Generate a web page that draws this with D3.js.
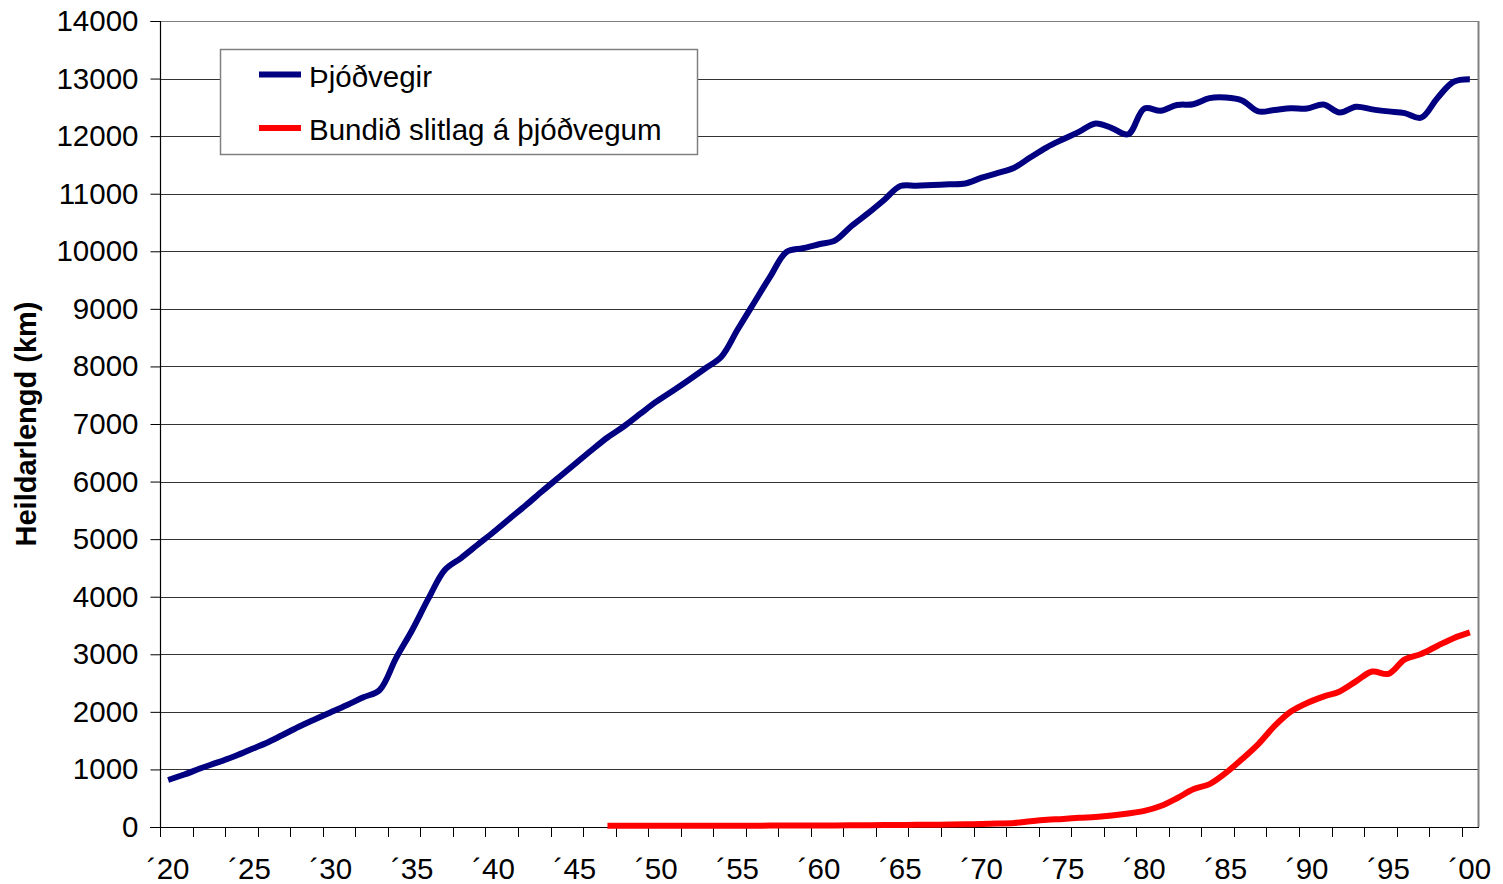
<!DOCTYPE html>
<html>
<head>
<meta charset="utf-8">
<script src="https://cdn.jsdelivr.net/npm/d3@7"></script>
<style>
  html, body { margin: 0; padding: 0; background: #fff; }
  svg { display: block; }
  text { font-family: "Liberation Sans", Arial, sans-serif; fill: #000; }
</style>
</head>
<body>
<svg id="chart" width="1503" height="884"></svg>
<script>
// ---------- data ----------
const years = d3.range(1920, 2001);
const xTickLabels = ["´20","´25","´30","´35","´40","´45","´50","´55","´60","´65","´70","´75","´80","´85","´90","´95","´00"];
const xLabelYears = [1920,1925,1930,1935,1940,1945,1950,1955,1960,1965,1970,1975,1980,1985,1990,1995,2000];
const yTicks = [0,1000,2000,3000,4000,5000,6000,7000,8000,9000,10000,11000,12000,13000,14000];

// Þjóðvegir, 1920–2000
const thjodvegir = [
  816, 912, 1020, 1117, 1221, 1338, 1454, 1593, 1737, 1867,
  1992, 2119, 2253, 2380, 2930, 3422, 3970, 4464, 4672, 4898,
  5124, 5359, 5593, 5836, 6071, 6305, 6540, 6766, 6957, 7174,
  7388, 7573, 7765, 7964, 8169, 8642, 9102, 9559, 9988, 10052,
  10122, 10191, 10440, 10657, 10891, 11134, 11139, 11152, 11164, 11178,
  11279, 11360, 11452, 11633, 11807, 11946, 12078, 12220, 12140, 12033,
  12480, 12440, 12540, 12555, 12660, 12670, 12620, 12430, 12455, 12485,
  12480, 12550, 12410, 12510, 12465, 12430, 12400, 12320, 12660, 12945, 12990
];

// Bundið slitlag á þjóðvegum, 1947–2000
const slitlagYears = d3.range(1947, 2001);
const slitlag = [
  20, 20, 20, 20, 20, 20, 20, 21, 22, 23,
  24, 25, 26, 27, 28, 30, 31, 33, 35, 37,
  40, 43, 47, 52, 60, 70, 100, 125, 140, 160,
  175, 200, 235, 280, 365, 500, 655, 745, 940, 1180,
  1440, 1755, 2005, 2155, 2265, 2355, 2530, 2700, 2660, 2910,
  3005, 3145, 3280, 3380
];

const seriesNames = ["Þjóðvegir", "Bundið slitlag á þjóðvegum"];
const seriesColors = ["#000080", "#ff0000"];
const yTitle = "Heildarlengd (km)";

// ---------- layout ----------
const L = 160, R = 1478, T = 21, B = 827;
const FS = "29.5px";
const svg = d3.select("#chart");

const x = d3.scaleBand().domain(years).range([L, R]).padding(0);
const bw = x.bandwidth();
const cx = yr => x(yr) + bw / 2;
const y = d3.scaleLinear().domain([0, 14000]).range([B, T]);

// gridlines
svg.append("g")
  .selectAll("line")
  .data(yTicks.filter(d => d > 0))
  .join("line")
  .attr("x1", L).attr("x2", R)
  .attr("y1", d => Math.round(y(d)) + 0.5).attr("y2", d => Math.round(y(d)) + 0.5)
  .attr("stroke", d => d === 14000 ? "#808080" : "#333")
  .attr("stroke-width", 1);

// plot border right
svg.append("line")
  .attr("x1", R + 0.5).attr("x2", R + 0.5).attr("y1", T).attr("y2", B)
  .attr("stroke", "#808080").attr("stroke-width", 2);

// y axis
const yAxis = d3.axisLeft(y).tickValues(yTicks).tickSize(10).tickPadding(12).tickFormat(d3.format("d"));
const gy = svg.append("g").attr("transform", `translate(${L + 0.5},0)`).call(yAxis);
gy.select(".domain").attr("stroke", "#000").attr("stroke-width", 1.2).attr("d", `M-10,${T + 0.5}H0V${B + 0.5}`);
gy.selectAll(".tick line").attr("stroke", "#000");
gy.selectAll(".tick text")
  .style("font-family", '"Liberation Sans", Arial, sans-serif')
  .style("font-size", FS).attr("fill", "#000");

// x axis line
svg.append("line")
  .attr("x1", L - 10).attr("x2", R + 1).attr("y1", B + 0.5).attr("y2", B + 0.5)
  .attr("stroke", "#000").attr("stroke-width", 1.2);

// x tick marks every two categories at category boundaries
const tickIdx = d3.range(0, years.length, 2);
svg.append("g").selectAll("line")
  .data(tickIdx)
  .join("line")
  .attr("x1", i => Math.round(x(years[i])) + 0.5)
  .attr("x2", i => Math.round(x(years[i])) + 0.5)
  .attr("y1", B).attr("y2", B + 10)
  .attr("stroke", "#000").attr("stroke-width", 1);

// x labels
svg.append("g").selectAll("text")
  .data(xLabelYears)
  .join("text")
  .attr("x", d => cx(d))
  .attr("y", 879)
  .attr("text-anchor", "middle")
  .style("font-size", FS)
  .text((d, i) => xTickLabels[i]);

// y title
svg.append("text")
  .attr("transform", `translate(36,${424}) rotate(-90)`)
  .attr("text-anchor", "middle")
  .style("font-size", "29px")
  .style("font-weight", "bold")
  .text(yTitle);

// lines
const line = d3.line().curve(d3.curveCatmullRom.alpha(0.5));
svg.append("path")
  .attr("d", line(years.map((yr, i) => [cx(yr), y(thjodvegir[i])])))
  .attr("fill", "none").attr("stroke", seriesColors[0]).attr("stroke-width", 6)
  .attr("stroke-linejoin", "round");
svg.append("path")
  .attr("d", line(slitlagYears.map((yr, i) => [cx(yr), y(slitlag[i])])))
  .attr("fill", "none").attr("stroke", seriesColors[1]).attr("stroke-width", 6)
  .attr("stroke-linejoin", "round");

// legend
const lg = svg.append("g");
lg.append("rect")
  .attr("x", 220.5).attr("y", 49.5).attr("width", 477).attr("height", 105)
  .attr("fill", "#fff").attr("stroke", "#808080").attr("stroke-width", 1.5);
seriesNames.forEach((name, i) => {
  const ly = 74.5 + i * 53.5;
  lg.append("line")
    .attr("x1", 259).attr("x2", 301).attr("y1", ly).attr("y2", ly)
    .attr("stroke", seriesColors[i]).attr("stroke-width", 6);
  lg.append("text")
    .attr("x", 309).attr("y", ly + 12)
    .style("font-size", FS)
    .text(name);
});
</script>
</body>
</html>
